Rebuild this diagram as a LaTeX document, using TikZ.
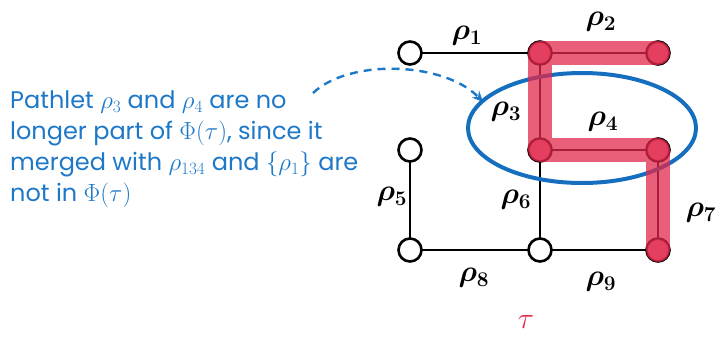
\documentclass[tikz,border=0pt]{standalone}
\usepackage{amsmath}
\usepackage{fontspec}
\setmainfont{Poppins}
\usetikzlibrary{arrows.meta}
\definecolor{blueann}{RGB}{30,120,200}
\definecolor{blueell}{RGB}{22,110,190}
\definecolor{redpath}{RGB}{225,40,75}
\tikzset{
  vtx/.style={circle,draw=black,fill=white,line width=2.6pt,minimum size=23pt,inner sep=0pt},
  edge/.style={line width=2.6pt,black},
  lbl/.style={font=\huge\boldmath,scale=1.45,inner sep=0pt},
  hl/.style={redpath,opacity=0.75,line width=24pt,line cap=round,line join=round},
}
\begin{document}
\begin{tikzpicture}[x=1pt,y=-1pt]
\useasboundingbox (0,0) rectangle (716,338);
% annotation text
\node[anchor=north west,align=left,inner sep=0pt,text=blueann,
      font=\fontsize{24}{31}\selectfont] (txt) at (10,91)
  {Pathlet $\rho_3$ and $\rho_4$ are no\\
   longer part of $\Phi(\tau)$, since it\\
   merged with $\rho_{134}$ and $\{\rho_1\}$ are\\
   not in $\Phi(\tau)$};
\coordinate (as) at (313,93);
\coordinate (ae) at (483,102);
\draw[blueann,line width=2.4pt,dash pattern=on 8pt off 6pt,-{Stealth[length=11pt,width=10pt,inset=4pt]}]
  (as) .. controls (350,58) and (445,62) .. (ae);
% vertices
\coordinate (a) at (410,53);
\coordinate (b) at (540,53);
\coordinate (c) at (658,53);
\coordinate (d) at (410,150);
\coordinate (e) at (540,150);
\coordinate (f) at (658,150);
\coordinate (g) at (410,250);
\coordinate (h) at (540,250);
\coordinate (i) at (658,250);
\draw[edge] (a) -- (b) -- (c);
\draw[edge] (b) -- (e) -- (f);
\draw[edge] (d) -- (g) -- (h) -- (i);
\draw[edge] (e) -- (h);
\draw[edge] (f) -- (i);
\foreach \n in {a,b,c,d,e,f,g,h,i} \node[vtx] (v\n) at (\n) {};
% ellipse
\draw[blueell,line width=4pt] (582,128) ellipse [x radius=114, y radius=55];
% highlighted path
\draw[hl] (c) -- (b) -- (e) -- (f) -- (i);
\foreach \n in {b,c,e,f,i} \fill[redpath,opacity=0.55] (\n) circle (11pt);
% labels
\node[lbl] (l1) at (467,36) {$\rho_1$};
\node[lbl] (l2) at (601,22) {$\rho_2$};
\node[lbl] (l3) at (506,112) {$\rho_3$};
\node[lbl] (l4) at (603,122) {$\rho_4$};
\node[lbl] (l5) at (392,197) {$\rho_5$};
\node[lbl] (l6) at (516,200) {$\rho_6$};
\node[lbl] (l7) at (701,213) {$\rho_7$};
\node[lbl] (l8) at (474,278) {$\rho_8$};
\node[lbl] (l9) at (601,282) {$\rho_9$};
\node[font=\huge,scale=1.45,inner sep=0pt,text=redpath] (tau) at (526,322) {$\tau$};
\end{tikzpicture}
\end{document}
